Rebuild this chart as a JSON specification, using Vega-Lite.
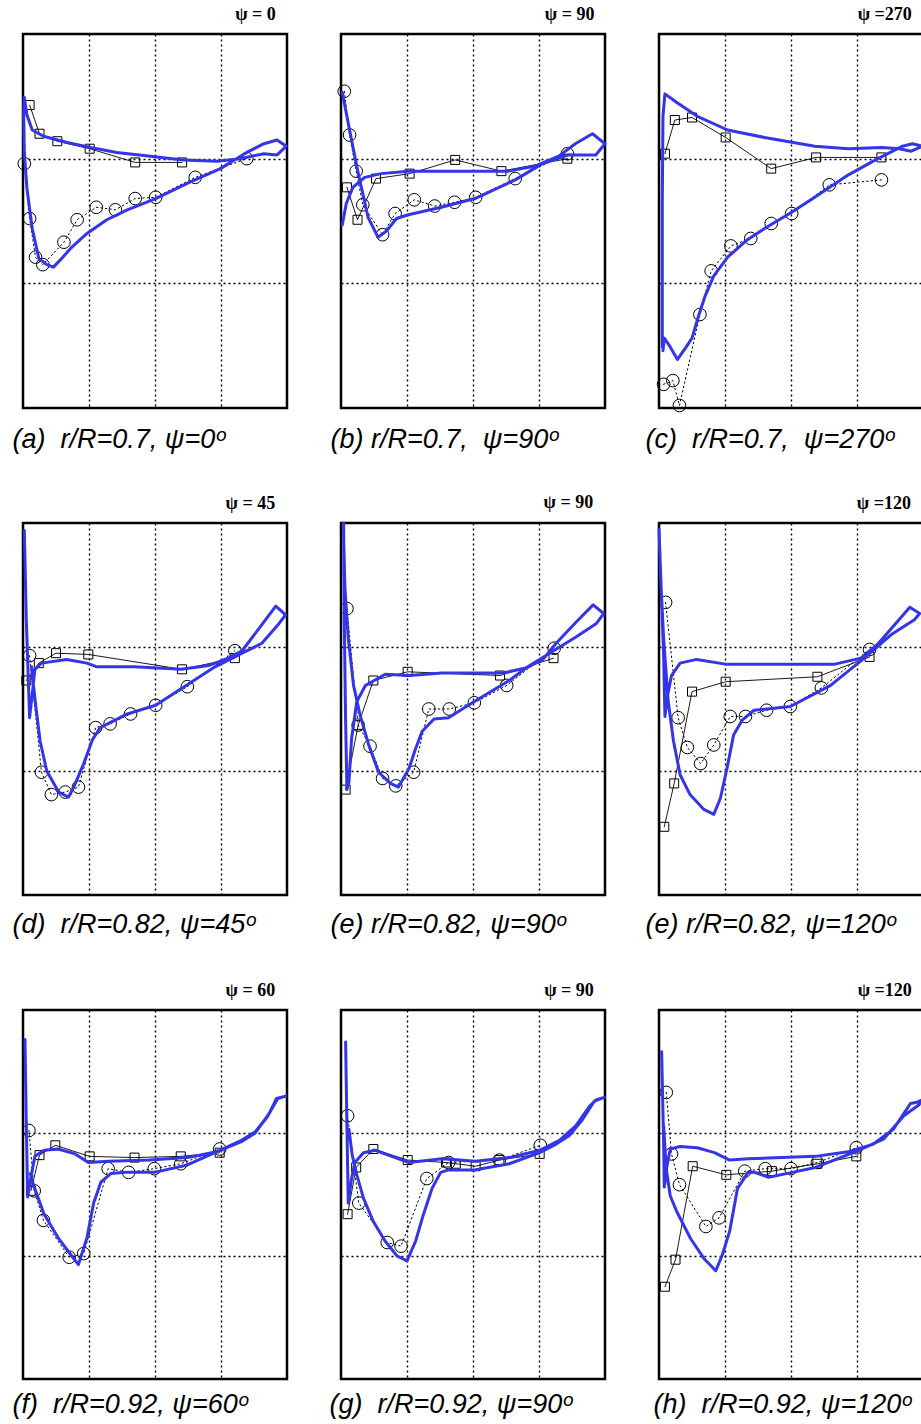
{
"$schema": "https://vega.github.io/schema/vega-lite/v6.json",
"padding": {"left": 10, "top": 4, "right": 0, "bottom": 10},
"background": "white",
"bounds": "flush",
"columns": 3,
"spacing": {"row": 115, "column": 54},
"config": {
  "view": {"stroke": "black", "strokeWidth": 2.5},
  "axis": {"domain": false, "ticks": false, "labels": false, "grid": true, "gridColor": "black", "gridDash": [2, 3], "gridWidth": 1.4, "gridOpacity": 1},
  "axisX": {"titleFont": "Liberation Sans", "titleFontStyle": "italic", "titleFontWeight": "normal", "titleFontSize": 27, "titleColor": "black", "titleAlign": "left", "titleBaseline": "alphabetic", "titleY": 39},
  "title": {"font": "Liberation Serif", "fontSize": 18, "fontWeight": "bold", "anchor": "end", "offset": 10, "color": "black", "dx": -12},
  "line": {"strokeCap": "round", "strokeJoin": "round"}
},
"datasets": {
  "a_b": [{"x":0.02,"y":2.49},{"x":0.06,"y":2.35},{"x":0.14,"y":2.23},{"x":0.31,"y":2.18},{"x":0.67,"y":2.13},{"x":1.02,"y":2.09},{"x":1.42,"y":2.05},{"x":1.93,"y":2.02},{"x":2.43,"y":1.99},{"x":2.94,"y":1.98},{"x":3.29,"y":2.00},{"x":3.65,"y":2.04},{"x":3.85,"y":2.03},{"x":3.99,"y":2.10},{"x":3.85,"y":2.15},{"x":3.65,"y":2.12},{"x":3.39,"y":2.05},{"x":2.99,"y":1.92},{"x":2.48,"y":1.80},{"x":2.01,"y":1.68},{"x":1.58,"y":1.59},{"x":1.27,"y":1.51},{"x":0.97,"y":1.40},{"x":0.72,"y":1.28},{"x":0.57,"y":1.19},{"x":0.46,"y":1.13},{"x":0.36,"y":1.15},{"x":0.24,"y":1.20},{"x":0.14,"y":1.44},{"x":0.06,"y":1.76},{"x":0.02,"y":2.05},{"x":0.01,"y":2.37},{"x":0.02,"y":2.49}],
  "a_q": [{"x":0.10,"y":2.43},{"x":0.25,"y":2.20},{"x":0.52,"y":2.14},{"x":1.01,"y":2.08},{"x":1.70,"y":1.97},{"x":2.41,"y":1.97}],
  "a_c": [{"x":0.02,"y":1.96},{"x":0.10,"y":1.52},{"x":0.19,"y":1.21},{"x":0.30,"y":1.15},{"x":0.62,"y":1.33},{"x":0.82,"y":1.51},{"x":1.11,"y":1.61},{"x":1.40,"y":1.59},{"x":1.70,"y":1.68},{"x":2.01,"y":1.69},{"x":2.61,"y":1.85},{"x":3.39,"y":2.00}],
  "b_b": [{"x":0.02,"y":1.47},{"x":0.08,"y":1.64},{"x":0.18,"y":1.77},{"x":0.36,"y":1.85},{"x":0.61,"y":1.88},{"x":1.02,"y":1.90},{"x":1.78,"y":1.90},{"x":2.54,"y":1.90},{"x":2.94,"y":1.94},{"x":3.30,"y":2.02},{"x":3.55,"y":2.12},{"x":3.81,"y":2.20},{"x":4.00,"y":2.12},{"x":3.86,"y":2.03},{"x":3.45,"y":2.03},{"x":3.05,"y":1.96},{"x":2.64,"y":1.83},{"x":2.03,"y":1.68},{"x":1.52,"y":1.61},{"x":1.02,"y":1.55},{"x":0.84,"y":1.52},{"x":0.69,"y":1.42},{"x":0.56,"y":1.37},{"x":0.41,"y":1.53},{"x":0.25,"y":1.91},{"x":0.13,"y":2.23},{"x":0.02,"y":2.53}],
  "b_q": [{"x":0.09,"y":1.77},{"x":0.25,"y":1.51},{"x":0.53,"y":1.84},{"x":1.04,"y":1.88},{"x":1.73,"y":1.99},{"x":2.43,"y":1.90},{"x":3.43,"y":2.00}],
  "b_c": [{"x":0.05,"y":2.54},{"x":0.13,"y":2.19},{"x":0.23,"y":1.90},{"x":0.33,"y":1.63},{"x":0.63,"y":1.39},{"x":0.82,"y":1.56},{"x":1.11,"y":1.67},{"x":1.42,"y":1.62},{"x":1.72,"y":1.65},{"x":2.04,"y":1.69},{"x":2.64,"y":1.84},{"x":3.43,"y":2.04}],
  "c_b": [{"x":0.06,"y":0.46},{"x":0.08,"y":0.56},{"x":0.17,"y":0.49},{"x":0.28,"y":0.39},{"x":0.40,"y":0.48},{"x":0.50,"y":0.56},{"x":0.60,"y":0.74},{"x":0.70,"y":0.90},{"x":0.83,"y":1.06},{"x":1.04,"y":1.21},{"x":1.34,"y":1.35},{"x":1.60,"y":1.44},{"x":2.01,"y":1.57},{"x":2.36,"y":1.69},{"x":2.87,"y":1.87},{"x":3.28,"y":1.99},{"x":3.69,"y":2.10},{"x":3.84,"y":2.12},{"x":3.99,"y":2.10},{"x":3.82,"y":2.06},{"x":3.64,"y":2.08},{"x":3.38,"y":2.09},{"x":2.87,"y":2.08},{"x":2.36,"y":2.10},{"x":1.60,"y":2.17},{"x":1.04,"y":2.23},{"x":0.58,"y":2.34},{"x":0.27,"y":2.45},{"x":0.09,"y":2.52},{"x":0.06,"y":2.34},{"x":0.05,"y":1.66},{"x":0.05,"y":0.84},{"x":0.05,"y":0.49}],
  "c_q": [{"x":0.09,"y":2.04},{"x":0.24,"y":2.31},{"x":0.50,"y":2.33},{"x":1.01,"y":2.17},{"x":1.70,"y":1.92},{"x":2.38,"y":2.01},{"x":3.37,"y":2.01}],
  "c_c": [{"x":0.07,"y":0.19},{"x":0.21,"y":0.22},{"x":0.31,"y":0.02},{"x":0.62,"y":0.75},{"x":0.79,"y":1.10},{"x":1.09,"y":1.30},{"x":1.39,"y":1.36},{"x":1.70,"y":1.48},{"x":2.01,"y":1.56},{"x":2.58,"y":1.79},{"x":3.37,"y":1.83}],
  "d_b": [{"x":0.02,"y":2.94},{"x":0.05,"y":2.22},{"x":0.10,"y":1.43},{"x":0.14,"y":1.62},{"x":0.18,"y":1.82},{"x":0.28,"y":1.87},{"x":0.66,"y":1.90},{"x":0.97,"y":1.87},{"x":1.12,"y":1.84},{"x":1.68,"y":1.84},{"x":2.40,"y":1.82},{"x":2.81,"y":1.85},{"x":3.11,"y":1.91},{"x":3.32,"y":1.97},{"x":3.52,"y":2.11},{"x":3.83,"y":2.33},{"x":3.98,"y":2.26},{"x":3.88,"y":2.19},{"x":3.62,"y":2.03},{"x":3.32,"y":1.95},{"x":2.91,"y":1.84},{"x":2.50,"y":1.70},{"x":2.01,"y":1.53},{"x":1.58,"y":1.46},{"x":1.17,"y":1.35},{"x":1.05,"y":1.25},{"x":0.92,"y":1.06},{"x":0.77,"y":0.87},{"x":0.69,"y":0.79},{"x":0.54,"y":0.83},{"x":0.36,"y":1.00},{"x":0.26,"y":1.24},{"x":0.19,"y":1.54},{"x":0.15,"y":1.73},{"x":0.13,"y":1.84}],
  "d_q": [{"x":0.05,"y":1.73},{"x":0.24,"y":1.87},{"x":0.50,"y":1.95},{"x":0.99,"y":1.94},{"x":2.41,"y":1.82},{"x":3.21,"y":1.91}],
  "d_c": [{"x":0.10,"y":1.93},{"x":0.28,"y":0.99},{"x":0.43,"y":0.81},{"x":0.64,"y":0.83},{"x":0.84,"y":0.87},{"x":1.10,"y":1.35},{"x":1.32,"y":1.38},{"x":1.63,"y":1.46},{"x":2.01,"y":1.53},{"x":2.49,"y":1.68},{"x":3.21,"y":1.97}],
  "e_b": [{"x":0.04,"y":3.00},{"x":0.05,"y":2.20},{"x":0.07,"y":1.40},{"x":0.09,"y":0.85},{"x":0.12,"y":0.91},{"x":0.16,"y":1.26},{"x":0.24,"y":1.56},{"x":0.37,"y":1.69},{"x":0.67,"y":1.78},{"x":1.03,"y":1.77},{"x":1.53,"y":1.79},{"x":2.04,"y":1.79},{"x":2.45,"y":1.79},{"x":2.80,"y":1.83},{"x":3.06,"y":1.90},{"x":3.26,"y":2.03},{"x":3.56,"y":2.20},{"x":3.82,"y":2.34},{"x":3.98,"y":2.27},{"x":3.87,"y":2.19},{"x":3.56,"y":2.08},{"x":3.16,"y":1.95},{"x":2.80,"y":1.83},{"x":2.55,"y":1.73},{"x":2.02,"y":1.56},{"x":1.63,"y":1.43},{"x":1.41,"y":1.42},{"x":1.23,"y":1.32},{"x":1.13,"y":1.18},{"x":1.03,"y":1.02},{"x":0.87,"y":0.87},{"x":0.75,"y":0.90},{"x":0.57,"y":0.99},{"x":0.42,"y":1.21},{"x":0.29,"y":1.45},{"x":0.19,"y":1.69},{"x":0.11,"y":2.07},{"x":0.06,"y":2.47},{"x":0.04,"y":2.88}],
  "e_q": [{"x":0.07,"y":0.85},{"x":0.26,"y":1.37},{"x":0.49,"y":1.73},{"x":1.01,"y":1.80},{"x":2.41,"y":1.77},{"x":3.22,"y":1.91}],
  "e_c": [{"x":0.09,"y":2.31},{"x":0.26,"y":1.37},{"x":0.44,"y":1.20},{"x":0.63,"y":0.94},{"x":0.83,"y":0.88},{"x":1.10,"y":0.99},{"x":1.33,"y":1.50},{"x":1.64,"y":1.50},{"x":2.02,"y":1.55},{"x":2.51,"y":1.69},{"x":3.23,"y":1.99}],
  "f_b": [{"x":0.00,"y":2.95},{"x":0.07,"y":1.94},{"x":0.09,"y":1.44},{"x":0.13,"y":1.61},{"x":0.19,"y":1.77},{"x":0.32,"y":1.87},{"x":0.57,"y":1.90},{"x":1.03,"y":1.86},{"x":1.84,"y":1.86},{"x":2.65,"y":1.86},{"x":3.06,"y":1.91},{"x":3.31,"y":2.02},{"x":3.57,"y":2.18},{"x":3.80,"y":2.32},{"x":3.95,"y":2.27},{"x":3.87,"y":2.22},{"x":3.52,"y":2.10},{"x":3.11,"y":1.91},{"x":2.60,"y":1.69},{"x":1.99,"y":1.52},{"x":1.44,"y":1.49},{"x":1.26,"y":1.41},{"x":1.13,"y":1.29},{"x":1.03,"y":1.02},{"x":0.93,"y":0.78},{"x":0.83,"y":0.65},{"x":0.68,"y":0.69},{"x":0.47,"y":0.81},{"x":0.32,"y":0.97},{"x":0.22,"y":1.24},{"x":0.14,"y":1.56},{"x":0.07,"y":2.07},{"x":0.02,"y":2.61}],
  "f_q": [{"x":0.08,"y":0.55},{"x":0.23,"y":0.90},{"x":0.50,"y":1.64},{"x":1.01,"y":1.72},{"x":2.40,"y":1.76},{"x":3.19,"y":1.92}],
  "f_c": [{"x":0.10,"y":2.36},{"x":0.29,"y":1.43},{"x":0.43,"y":1.19},{"x":0.63,"y":1.06},{"x":0.83,"y":1.21},{"x":1.08,"y":1.44},{"x":1.31,"y":1.44},{"x":1.63,"y":1.49},{"x":1.99,"y":1.52},{"x":2.46,"y":1.67},{"x":3.19,"y":1.98}],
  "g_b": [{"x":0.03,"y":2.76},{"x":0.05,"y":2.08},{"x":0.07,"y":1.48},{"x":0.12,"y":1.64},{"x":0.18,"y":1.81},{"x":0.32,"y":1.86},{"x":0.53,"y":1.87},{"x":0.79,"y":1.83},{"x":0.99,"y":1.76},{"x":1.30,"y":1.77},{"x":1.92,"y":1.78},{"x":2.49,"y":1.80},{"x":2.95,"y":1.85},{"x":3.31,"y":1.93},{"x":3.52,"y":2.00},{"x":3.73,"y":2.16},{"x":3.84,"y":2.28},{"x":3.98,"y":2.30},{"x":3.86,"y":2.28},{"x":3.70,"y":2.13},{"x":3.52,"y":2.01},{"x":3.31,"y":1.94},{"x":2.95,"y":1.85},{"x":2.49,"y":1.74},{"x":1.99,"y":1.68},{"x":1.56,"y":1.68},{"x":1.33,"y":1.67},{"x":1.18,"y":1.60},{"x":1.07,"y":1.43},{"x":0.97,"y":1.15},{"x":0.84,"y":0.93},{"x":0.71,"y":1.02},{"x":0.53,"y":1.15},{"x":0.32,"y":1.34},{"x":0.17,"y":1.56},{"x":0.11,"y":1.67}],
  "g_q": [{"x":0.12,"y":1.53},{"x":0.25,"y":1.82},{"x":0.49,"y":1.90},{"x":1.01,"y":1.81},{"x":1.69,"y":1.80},{"x":2.39,"y":1.81},{"x":2.98,"y":1.84}],
  "g_c": [{"x":0.09,"y":2.02},{"x":0.17,"y":1.53},{"x":0.31,"y":1.29},{"x":0.70,"y":0.99},{"x":0.92,"y":1.02},{"x":1.29,"y":1.71},{"x":1.60,"y":1.68},{"x":1.99,"y":1.71},{"x":2.39,"y":1.75},{"x":2.98,"y":1.87}],
  "h_b": [{"x":0.07,"y":2.74},{"x":0.09,"y":2.06},{"x":0.11,"y":1.43},{"x":0.16,"y":1.63},{"x":0.21,"y":1.76},{"x":0.34,"y":1.84},{"x":0.52,"y":1.86},{"x":0.82,"y":1.80},{"x":1.03,"y":1.76},{"x":1.53,"y":1.79},{"x":2.04,"y":1.77},{"x":2.55,"y":1.80},{"x":3.01,"y":1.86},{"x":3.31,"y":1.94},{"x":3.56,"y":2.06},{"x":3.77,"y":2.22},{"x":3.87,"y":2.27},{"x":3.99,"y":2.29},{"x":3.84,"y":2.26},{"x":3.66,"y":2.11},{"x":3.46,"y":1.98},{"x":3.26,"y":1.91},{"x":3.01,"y":1.84},{"x":2.55,"y":1.75},{"x":2.02,"y":1.70},{"x":1.63,"y":1.70},{"x":1.51,"y":1.68},{"x":1.38,"y":1.55},{"x":1.25,"y":1.34},{"x":1.13,"y":1.12},{"x":1.00,"y":0.96},{"x":0.85,"y":1.00},{"x":0.67,"y":1.12},{"x":0.49,"y":1.28},{"x":0.34,"y":1.47},{"x":0.24,"y":1.66},{"x":0.17,"y":1.82},{"x":0.12,"y":2.03}],
  "h_q": [{"x":0.10,"y":1.34},{"x":0.23,"y":1.72},{"x":0.49,"y":1.87},{"x":1.01,"y":1.78},{"x":1.59,"y":1.76},{"x":1.74,"y":1.75},{"x":2.04,"y":1.73},{"x":2.40,"y":1.78},{"x":3.01,"y":1.83}],
  "h_c": [{"x":0.10,"y":2.14},{"x":0.27,"y":1.43},{"x":0.70,"y":1.11},{"x":0.91,"y":1.08},{"x":1.30,"y":1.63},{"x":1.63,"y":1.76},{"x":2.40,"y":1.78},{"x":3.02,"y":1.90}],
  "i_b": [{"x":0.04,"y":2.66},{"x":0.07,"y":1.92},{"x":0.08,"y":1.56},{"x":0.12,"y":1.73},{"x":0.17,"y":1.87},{"x":0.32,"y":1.89},{"x":0.58,"y":1.88},{"x":0.84,"y":1.84},{"x":1.07,"y":1.78},{"x":1.35,"y":1.79},{"x":1.86,"y":1.80},{"x":2.37,"y":1.81},{"x":2.89,"y":1.85},{"x":3.25,"y":1.91},{"x":3.55,"y":2.03},{"x":3.81,"y":2.24},{"x":3.91,"y":2.25},{"x":3.99,"y":2.27},{"x":3.94,"y":2.23},{"x":3.71,"y":2.14},{"x":3.40,"y":1.95},{"x":2.99,"y":1.85},{"x":2.37,"y":1.72},{"x":2.02,"y":1.68},{"x":1.66,"y":1.64},{"x":1.45,"y":1.68},{"x":1.35,"y":1.68},{"x":1.19,"y":1.55},{"x":1.07,"y":1.20},{"x":0.96,"y":1.01},{"x":0.86,"y":0.88},{"x":0.68,"y":0.98},{"x":0.48,"y":1.14},{"x":0.27,"y":1.36},{"x":0.17,"y":1.49},{"x":0.11,"y":1.71},{"x":0.07,"y":2.06}],
  "i_q": [{"x":0.09,"y":0.75},{"x":0.25,"y":0.97},{"x":0.51,"y":1.73},{"x":1.02,"y":1.66},{"x":1.71,"y":1.69},{"x":2.40,"y":1.75},{"x":2.99,"y":1.81}],
  "i_c": [{"x":0.11,"y":2.33},{"x":0.19,"y":1.83},{"x":0.31,"y":1.58},{"x":0.71,"y":1.24},{"x":0.91,"y":1.31},{"x":1.30,"y":1.69},{"x":1.61,"y":1.71},{"x":2.00,"y":1.71},{"x":2.40,"y":1.76},{"x":2.99,"y":1.88}]
},
"concat": [
  {"width": 264, "height": 374, "title": "ψ = 0",
   "encoding": {"x": {"field": "x", "type": "quantitative", "scale": {"domain": [0, 4], "nice": false, "zero": false}, "axis": {"values": [1, 2, 3], "title": "(a) \u00a0r/R=0.7, ψ=0ᵒ", "titleX": -11}},
                "y": {"field": "y", "type": "quantitative", "scale": {"domain": [0, 3], "nice": false, "zero": false}, "axis": {"values": [1, 2], "title": null}}},
   "layer": [
    {"data": {"name": "a_q"}, "mark": {"type": "line", "color": "black", "strokeWidth": 0.9}, "encoding": {}},
    {"data": {"name": "a_q"}, "mark": {"type": "point", "shape": "square", "filled": false, "color": "black", "size": 81, "strokeWidth": 1, "opacity": 1}},
    {"data": {"name": "a_c"}, "mark": {"type": "line", "color": "black", "strokeWidth": 1, "strokeDash": [1.5, 3]}, "encoding": {}},
    {"data": {"name": "a_c"}, "mark": {"type": "point", "shape": "circle", "filled": false, "color": "black", "size": 160, "strokeWidth": 1, "opacity": 1}},
    {"data": {"name": "a_b"}, "mark": {"type": "line", "color": "#3434e8", "strokeWidth": 3}, "encoding": {"order": {"value": null}}}
   ]},
  {"width": 264, "height": 374, "title": "ψ = 90",
   "encoding": {"x": {"field": "x", "type": "quantitative", "scale": {"domain": [0, 4], "nice": false, "zero": false}, "axis": {"values": [1, 2, 3], "title": "(b) r/R=0.7, \u00a0ψ=90ᵒ", "titleX": -11}},
                "y": {"field": "y", "type": "quantitative", "scale": {"domain": [0, 3], "nice": false, "zero": false}, "axis": {"values": [1, 2], "title": null}}},
   "layer": [
    {"data": {"name": "b_q"}, "mark": {"type": "line", "color": "black", "strokeWidth": 0.9}, "encoding": {}},
    {"data": {"name": "b_q"}, "mark": {"type": "point", "shape": "square", "filled": false, "color": "black", "size": 81, "strokeWidth": 1, "opacity": 1}},
    {"data": {"name": "b_c"}, "mark": {"type": "line", "color": "black", "strokeWidth": 1, "strokeDash": [1.5, 3]}, "encoding": {}},
    {"data": {"name": "b_c"}, "mark": {"type": "point", "shape": "circle", "filled": false, "color": "black", "size": 160, "strokeWidth": 1, "opacity": 1}},
    {"data": {"name": "b_b"}, "mark": {"type": "line", "color": "#3434e8", "strokeWidth": 3}, "encoding": {"order": {"value": null}}}
   ]},
  {"width": 264, "height": 374, "title": "ψ =270",
   "encoding": {"x": {"field": "x", "type": "quantitative", "scale": {"domain": [0, 4], "nice": false, "zero": false}, "axis": {"values": [1, 2, 3], "title": "(c) \u00a0r/R=0.7, \u00a0ψ=270ᵒ", "titleX": -14}},
                "y": {"field": "y", "type": "quantitative", "scale": {"domain": [0, 3], "nice": false, "zero": false}, "axis": {"values": [1, 2], "title": null}}},
   "layer": [
    {"data": {"name": "c_q"}, "mark": {"type": "line", "color": "black", "strokeWidth": 0.9}, "encoding": {}},
    {"data": {"name": "c_q"}, "mark": {"type": "point", "shape": "square", "filled": false, "color": "black", "size": 81, "strokeWidth": 1, "opacity": 1}},
    {"data": {"name": "c_c"}, "mark": {"type": "line", "color": "black", "strokeWidth": 1, "strokeDash": [1.5, 3]}, "encoding": {}},
    {"data": {"name": "c_c"}, "mark": {"type": "point", "shape": "circle", "filled": false, "color": "black", "size": 160, "strokeWidth": 1, "opacity": 1}},
    {"data": {"name": "c_b"}, "mark": {"type": "line", "color": "#3434e8", "strokeWidth": 3}, "encoding": {"order": {"value": null}}}
   ]},
  {"width": 264, "height": 372, "title": "ψ = 45",
   "encoding": {"x": {"field": "x", "type": "quantitative", "scale": {"domain": [0, 4], "nice": false, "zero": false}, "axis": {"values": [1, 2, 3], "title": "(d) \u00a0r/R=0.82, ψ=45ᵒ", "titleX": -11, "titleY": 37}},
                "y": {"field": "y", "type": "quantitative", "scale": {"domain": [0, 3], "nice": false, "zero": false}, "axis": {"values": [1, 2], "title": null}}},
   "layer": [
    {"data": {"name": "d_q"}, "mark": {"type": "line", "color": "black", "strokeWidth": 0.9}, "encoding": {}},
    {"data": {"name": "d_q"}, "mark": {"type": "point", "shape": "square", "filled": false, "color": "black", "size": 81, "strokeWidth": 1, "opacity": 1}},
    {"data": {"name": "d_c"}, "mark": {"type": "line", "color": "black", "strokeWidth": 1, "strokeDash": [1.5, 3]}, "encoding": {}},
    {"data": {"name": "d_c"}, "mark": {"type": "point", "shape": "circle", "filled": false, "color": "black", "size": 160, "strokeWidth": 1, "opacity": 1}},
    {"data": {"name": "d_b"}, "mark": {"type": "line", "color": "#3434e8", "strokeWidth": 3}, "encoding": {"order": {"value": null}}}
   ]},
  {"width": 264, "height": 372, "title": "ψ = 90",
   "encoding": {"x": {"field": "x", "type": "quantitative", "scale": {"domain": [0, 4], "nice": false, "zero": false}, "axis": {"values": [1, 2, 3], "title": "(e) r/R=0.82, ψ=90ᵒ", "titleX": -11, "titleY": 37}},
                "y": {"field": "y", "type": "quantitative", "scale": {"domain": [0, 3], "nice": false, "zero": false}, "axis": {"values": [1, 2], "title": null}}},
   "layer": [
    {"data": {"name": "e_q"}, "mark": {"type": "line", "color": "black", "strokeWidth": 0.9}, "encoding": {}},
    {"data": {"name": "e_q"}, "mark": {"type": "point", "shape": "square", "filled": false, "color": "black", "size": 81, "strokeWidth": 1, "opacity": 1}},
    {"data": {"name": "e_c"}, "mark": {"type": "line", "color": "black", "strokeWidth": 1, "strokeDash": [1.5, 3]}, "encoding": {}},
    {"data": {"name": "e_c"}, "mark": {"type": "point", "shape": "circle", "filled": false, "color": "black", "size": 160, "strokeWidth": 1, "opacity": 1}},
    {"data": {"name": "e_b"}, "mark": {"type": "line", "color": "#3434e8", "strokeWidth": 3}, "encoding": {"order": {"value": null}}}
   ]},
  {"width": 264, "height": 372, "title": "ψ =120",
   "encoding": {"x": {"field": "x", "type": "quantitative", "scale": {"domain": [0, 4], "nice": false, "zero": false}, "axis": {"values": [1, 2, 3], "title": "(e) r/R=0.82, ψ=120ᵒ", "titleX": -14, "titleY": 37}},
                "y": {"field": "y", "type": "quantitative", "scale": {"domain": [0, 3], "nice": false, "zero": false}, "axis": {"values": [1, 2], "title": null}}},
   "layer": [
    {"data": {"name": "f_q"}, "mark": {"type": "line", "color": "black", "strokeWidth": 0.9}, "encoding": {}},
    {"data": {"name": "f_q"}, "mark": {"type": "point", "shape": "square", "filled": false, "color": "black", "size": 81, "strokeWidth": 1, "opacity": 1}},
    {"data": {"name": "f_c"}, "mark": {"type": "line", "color": "black", "strokeWidth": 1, "strokeDash": [1.5, 3]}, "encoding": {}},
    {"data": {"name": "f_c"}, "mark": {"type": "point", "shape": "circle", "filled": false, "color": "black", "size": 160, "strokeWidth": 1, "opacity": 1}},
    {"data": {"name": "f_b"}, "mark": {"type": "line", "color": "#3434e8", "strokeWidth": 3}, "encoding": {"order": {"value": null}}}
   ]},
  {"width": 264, "height": 369, "title": "ψ = 60",
   "encoding": {"x": {"field": "x", "type": "quantitative", "scale": {"domain": [0, 4], "nice": false, "zero": false}, "axis": {"values": [1, 2, 3], "title": "(f) \u00a0r/R=0.92, ψ=60ᵒ", "titleX": -11, "titleY": 33}},
                "y": {"field": "y", "type": "quantitative", "scale": {"domain": [0, 3], "nice": false, "zero": false}, "axis": {"values": [1, 2], "title": null}}},
   "layer": [
    {"data": {"name": "g_q"}, "mark": {"type": "line", "color": "black", "strokeWidth": 0.9}, "encoding": {}},
    {"data": {"name": "g_q"}, "mark": {"type": "point", "shape": "square", "filled": false, "color": "black", "size": 81, "strokeWidth": 1, "opacity": 1}},
    {"data": {"name": "g_c"}, "mark": {"type": "line", "color": "black", "strokeWidth": 1, "strokeDash": [1.5, 3]}, "encoding": {}},
    {"data": {"name": "g_c"}, "mark": {"type": "point", "shape": "circle", "filled": false, "color": "black", "size": 160, "strokeWidth": 1, "opacity": 1}},
    {"data": {"name": "g_b"}, "mark": {"type": "line", "color": "#3434e8", "strokeWidth": 3}, "encoding": {"order": {"value": null}}}
   ]},
  {"width": 264, "height": 369, "title": "ψ = 90",
   "encoding": {"x": {"field": "x", "type": "quantitative", "scale": {"domain": [0, 4], "nice": false, "zero": false}, "axis": {"values": [1, 2, 3], "title": "(g) \u00a0r/R=0.92, ψ=90ᵒ", "titleX": -12, "titleY": 33}},
                "y": {"field": "y", "type": "quantitative", "scale": {"domain": [0, 3], "nice": false, "zero": false}, "axis": {"values": [1, 2], "title": null}}},
   "layer": [
    {"data": {"name": "h_q"}, "mark": {"type": "line", "color": "black", "strokeWidth": 0.9}, "encoding": {}},
    {"data": {"name": "h_q"}, "mark": {"type": "point", "shape": "square", "filled": false, "color": "black", "size": 81, "strokeWidth": 1, "opacity": 1}},
    {"data": {"name": "h_c"}, "mark": {"type": "line", "color": "black", "strokeWidth": 1, "strokeDash": [1.5, 3]}, "encoding": {}},
    {"data": {"name": "h_c"}, "mark": {"type": "point", "shape": "circle", "filled": false, "color": "black", "size": 160, "strokeWidth": 1, "opacity": 1}},
    {"data": {"name": "h_b"}, "mark": {"type": "line", "color": "#3434e8", "strokeWidth": 3}, "encoding": {"order": {"value": null}}}
   ]},
  {"width": 264, "height": 369, "title": "ψ =120",
   "encoding": {"x": {"field": "x", "type": "quantitative", "scale": {"domain": [0, 4], "nice": false, "zero": false}, "axis": {"values": [1, 2, 3], "title": "(h) \u00a0r/R=0.92, ψ=120ᵒ", "titleX": -6, "titleY": 33}},
                "y": {"field": "y", "type": "quantitative", "scale": {"domain": [0, 3], "nice": false, "zero": false}, "axis": {"values": [1, 2], "title": null}}},
   "layer": [
    {"data": {"name": "i_q"}, "mark": {"type": "line", "color": "black", "strokeWidth": 0.9}, "encoding": {}},
    {"data": {"name": "i_q"}, "mark": {"type": "point", "shape": "square", "filled": false, "color": "black", "size": 81, "strokeWidth": 1, "opacity": 1}},
    {"data": {"name": "i_c"}, "mark": {"type": "line", "color": "black", "strokeWidth": 1, "strokeDash": [1.5, 3]}, "encoding": {}},
    {"data": {"name": "i_c"}, "mark": {"type": "point", "shape": "circle", "filled": false, "color": "black", "size": 160, "strokeWidth": 1, "opacity": 1}},
    {"data": {"name": "i_b"}, "mark": {"type": "line", "color": "#3434e8", "strokeWidth": 3}, "encoding": {"order": {"value": null}}}
   ]}
]
}
